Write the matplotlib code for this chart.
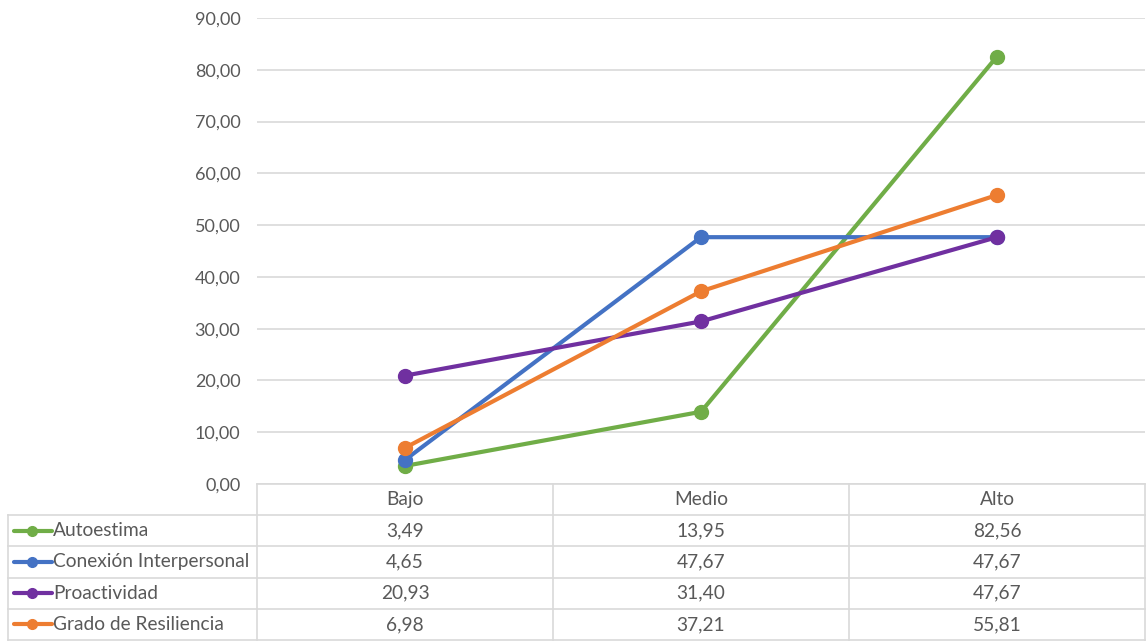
import matplotlib.pyplot as plt
from matplotlib.ticker import FuncFormatter

plt.rcParams["font.family"] = ["Lato", "DejaVu Sans"]

# Datos
categorias = ["Bajo", "Medio", "Alto"]
series = ["Autoestima", "Conexión Interpersonal", "Proactividad", "Grado de Resiliencia"]
autoestima = [3.49, 13.95, 82.56]
conexion = [4.65, 47.67, 47.67]
proactividad = [20.93, 31.40, 47.67]
resiliencia = [6.98, 37.21, 55.81]
valores = [autoestima, conexion, proactividad, resiliencia]
colores = ["#70ad47", "#4472c4", "#7030a0", "#ed7d31"]

W, H = 1147, 642
fig = plt.figure(figsize=(W / 100, H / 100), dpi=100)

gris_texto = "#595959"
gris_linea = "#d9d9d9"
fs = 13
fs_tabla = 13.8

# Area del grafico
x0, x1 = 257, 1145
ax = fig.add_axes([x0 / W, 1 - 484 / H, (x1 - x0) / W, (484 - 18) / H])
x = list(range(len(categorias)))
for nombre, vals, col in zip(series, valores, colores):
    ax.plot(x, vals, color=col, lw=3, marker="o", ms=10, label=nombre, zorder=3)

ax.set_xlim(-0.5, len(categorias) - 0.5)
ax.set_ylim(0, 90)
ax.set_yticks(range(0, 91, 10))
ax.yaxis.set_major_formatter(FuncFormatter(lambda v, p: f"{v:.2f}".replace(".", ",")))
ax.grid(axis="y", color=gris_linea, lw=1.2)
ax.set_axisbelow(True)
ax.set_xticks([])
for s in ax.spines.values():
    s.set_visible(False)
ax.tick_params(axis="y", length=0, pad=12, labelsize=fs, labelcolor=gris_texto)

# Tabla de datos
tx = fig.add_axes([0, 0, 1, 1])
tx.set_xlim(0, W)
tx.set_ylim(H, 0)
tx.axis("off")

col_w = (x1 - x0) / len(categorias)
fila_h = 31.2
y_top = 484
izq = 8
n_filas = len(series) + 1

# lineas horizontales
for i in range(n_filas + 1):
    y = y_top + i * fila_h
    xs = x0 if i == 0 else izq
    tx.plot([xs, x1], [y, y], color=gris_linea, lw=1.2)
# lineas verticales
for j in range(len(categorias) + 1):
    xv = x0 + j * col_w
    tx.plot([xv, xv], [y_top, y_top + n_filas * fila_h], color=gris_linea, lw=1.2)
tx.plot([izq, izq], [y_top + fila_h, y_top + n_filas * fila_h], color=gris_linea, lw=1.2)

for j, cat in enumerate(categorias):
    tx.text(x0 + (j + 0.5) * col_w, y_top + fila_h / 2, cat, ha="center", va="center",
            fontsize=fs_tabla, color=gris_texto)

for i, (nombre, vals, col) in enumerate(zip(series, valores, colores)):
    yc = y_top + (i + 1.5) * fila_h
    tx.plot([14, 52], [yc, yc], color=col, lw=3, solid_capstyle="round")
    tx.plot([32], [yc], marker="o", color=col, ms=7)
    tx.text(53, yc, nombre, ha="left", va="center", fontsize=fs_tabla, color=gris_texto)
    for j, v in enumerate(vals):
        tx.text(x0 + (j + 0.5) * col_w, yc, f"{v:.2f}".replace(".", ","), ha="center",
                va="center", fontsize=fs_tabla, color=gris_texto)

plt.savefig("out.png", dpi=100)
